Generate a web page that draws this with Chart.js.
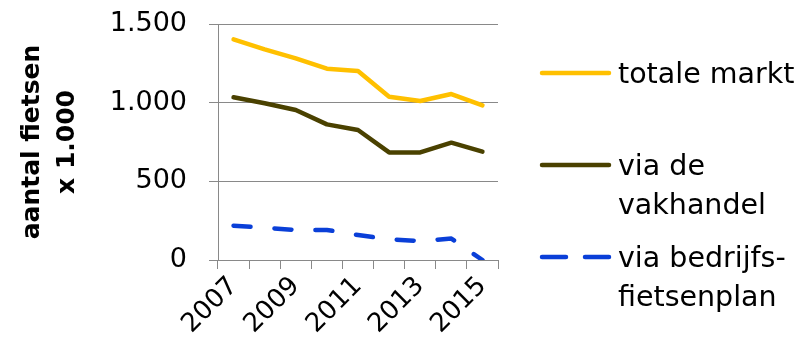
<!DOCTYPE html>
<html>
<head>
<meta charset="utf-8">
<script src="https://cdn.jsdelivr.net/npm/chart.js@4/dist/chart.umd.min.js"></script>
<style>
  html, body { margin: 0; padding: 0; background: #ffffff; }
  #wrap { width: 809px; height: 352px; }
</style>
</head>
<body>
<div id="wrap"><canvas id="c" width="809" height="352"></canvas></div>
<script>
// Fietsverkopen in Nederland, aantal x 1.000
const years = ['2007', '2008', '2009', '2010', '2011', '2012', '2013', '2014', '2015'];
const totaleMarkt = [1402, 1339, 1282, 1216, 1201, 1038, 1011, 1055, 983];
const viaVakhandel = [1034, 996, 953, 862, 826, 684, 684, 746, 689];
const viaBedrijfsfietsenplan = [218, 205, 191, 191, 159, 131, 121, 136, 0];
const yTickLabels = ['0', '500', '1.000', '1.500'];
const legendLines = [['totale markt'], ['via de', 'vakhandel'], ['via bedrijfs-', 'fietsenplan']];

const FONT = '"DejaVu Sans", "Liberation Sans", sans-serif';
const AXIS_GREY = '#898989';

// Legend on the right, with multi-line labels
const sideLegend = {
  id: 'sideLegend',
  afterDraw(chart) {
    const ctx = chart.ctx;
    const sampleY = [73, 165, 257];
    const baselineY = [83, 175, 267];
    const lineGap = 39;
    ctx.save();
    chart.data.datasets.forEach((ds, i) => {
      const y = sampleY[i];
      ctx.beginPath();
      ctx.strokeStyle = ds.borderColor;
      ctx.lineWidth = ds.borderWidth;
      ctx.lineCap = 'round';
      ctx.setLineDash(ds.borderDash && ds.borderDash.length ? [24, 19] : []);
      ctx.moveTo(542, y);
      ctx.lineTo(609, y);
      ctx.stroke();
      ctx.setLineDash([]);
      ctx.fillStyle = '#000000';
      ctx.font = '28.5px ' + FONT;
      ctx.textAlign = 'left';
      ctx.textBaseline = 'alphabetic';
      legendLines[i].forEach((t, k) => ctx.fillText(t, 618, baselineY[i] + k * lineGap));
    });
    ctx.restore();
  }
};

new Chart(document.getElementById('c'), {
  type: 'line',
  data: {
    labels: years,
    datasets: [
      {
        label: 'totale markt',
        data: totaleMarkt,
        borderColor: '#FFC000',
        borderWidth: 4.5,
        borderCapStyle: 'round',
        borderJoinStyle: 'round',
        pointRadius: 0,
        tension: 0
      },
      {
        label: 'via de vakhandel',
        data: viaVakhandel,
        borderColor: '#4A4100',
        borderWidth: 4.5,
        borderCapStyle: 'round',
        borderJoinStyle: 'round',
        pointRadius: 0,
        tension: 0
      },
      {
        label: 'via bedrijfsfietsenplan',
        data: viaBedrijfsfietsenplan,
        borderColor: '#0A3FD8',
        borderWidth: 4.5,
        borderDash: [17, 24],
        borderCapStyle: 'round',
        borderJoinStyle: 'round',
        pointRadius: 0,
        tension: 0
      }
    ]
  },
  options: {
    responsive: false,
    animation: false,
    devicePixelRatio: 1,
    layout: { padding: { top: 24, right: 311, bottom: 0, left: 0 } },
    plugins: {
      legend: { display: false },
      tooltip: { enabled: false }
    },
    scales: {
      x: {
        type: 'category',
        offset: true,
        grid: {
          offset: true,
          drawOnChartArea: false,
          drawTicks: true,
          tickLength: 9,
          color: AXIS_GREY
        },
        border: { display: true, color: AXIS_GREY, width: 1 },
        ticks: {
          autoSkip: false,
          maxRotation: 45,
          minRotation: 45,
          padding: 2,
          color: '#000000',
          font: { family: FONT, size: 26 },
          callback: (v, i) => (i % 2 === 0 ? years[i] : '')
        },
        afterFit: (s) => { s.height = 92; }
      },
      y: {
        min: 0,
        max: 1500,
        grid: {
          color: AXIS_GREY,
          lineWidth: 1,
          drawTicks: true,
          tickLength: 9
        },
        border: { display: true, color: AXIS_GREY, width: 1 },
        ticks: {
          stepSize: 500,
          padding: 22,
          color: '#000000',
          font: { family: FONT, size: 27 },
          callback: (v, i) => yTickLabels[i]
        },
        title: {
          display: true,
          text: ['aantal fietsen', 'x 1.000'],
          color: '#000000',
          font: { family: FONT, size: 25, weight: 'bold', lineHeight: 1.4 },
          padding: { top: 15, bottom: 0 }
        },
        afterFit: (s) => {
          s.width = 218;
          s.paddingTop = 0;
          s.paddingBottom = 0;
        }
      }
    }
  },
  plugins: [sideLegend]
});
</script>
</body>
</html>
